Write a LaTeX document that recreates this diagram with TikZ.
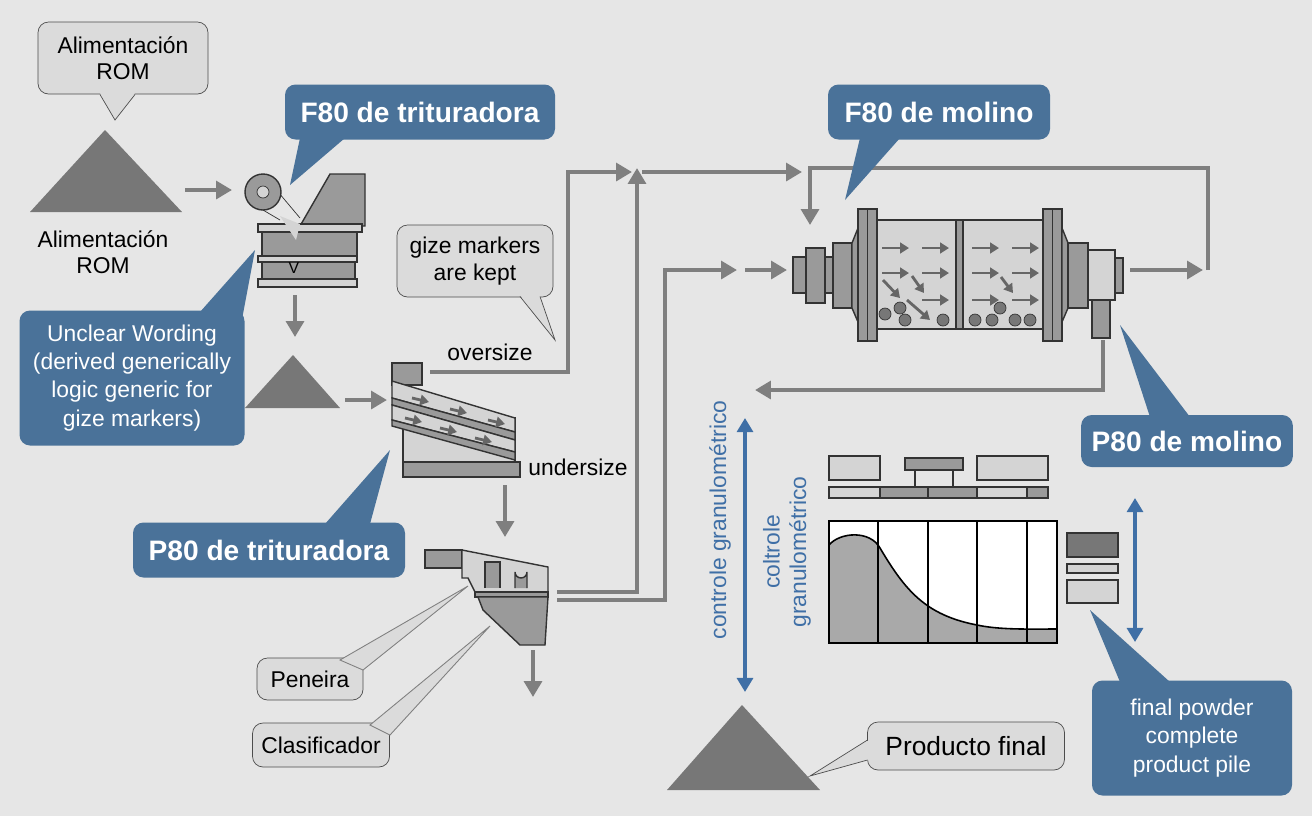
\documentclass[tikz,border=0pt]{standalone}
\usepackage{fontspec}
\setmainfont{Liberation Sans}
\usetikzlibrary{positioning,arrows.meta}
\definecolor{bg}{HTML}{E6E6E6}
\definecolor{callblue}{HTML}{4A7299}
\definecolor{flow}{HTML}{7F7F7F}
\definecolor{part}{HTML}{9A9A9A}
\definecolor{partlt}{HTML}{D4D4D4}
\definecolor{partdk}{HTML}{777777}
\definecolor{txtblue}{HTML}{3F6FA6}

\tikzset{
  blue call/.style = {fill=callblue, text=white, rounded corners=6pt, font=\fontsize{16}{18}\selectfont\bfseries, inner sep=6pt, align=center},
  blue note/.style = {fill=callblue, text=white, rounded corners=6pt, font=\fontsize{13}{16}\selectfont, align=center},
  grey call/.style = {draw=black!70, fill=partlt!60!bg, rounded corners=6pt, font=\fontsize{13}{15}\selectfont, align=center},
  flow line/.style = {draw=flow, line width=2.4pt, -{Triangle[length=9pt,width=10pt]}},
  flow path/.style = {draw=flow, line width=2.4pt},
  machine/.style = {draw=black!80, line width=0.8pt, fill=part},
  machine lt/.style = {draw=black!80, line width=0.8pt, fill=partlt},
  machine dk/.style = {draw=black!80, line width=0.8pt, fill=partdk},
  pile/.style = {fill=partdk},
  small arrow/.style = {draw=flow!80!black, line width=1.6pt, -{Triangle[length=5pt,width=6pt]}},
  measure/.style = {draw=txtblue, line width=2pt, {Triangle[length=8pt,width=9pt]}-{Triangle[length=8pt,width=9pt]}}
}

\begin{document}
\begin{tikzpicture}[x=0.02cm, y=-0.02cm]
      \fill[bg] (0,0) rectangle (1312,816);
      \useasboundingbox (0,0) rectangle (1312,816);

      % ROM feed
      \node[grey call, minimum width=170*0.02cm, minimum height=72*0.02cm] (romcall) at (123,58) {Alimentación\\ROM};
      \fill[partlt!60!bg] (100,93) -- (115,120) -- (135,93) -- cycle;
      \draw[black!70] (100,94.5) -- (115,120) -- (135,94.5);
      \fill[pile] (30,212) -- (105,130) -- (182,212) -- cycle;
      \node[font=\fontsize{13}{15}\selectfont, align=center] (romlabel) at (103,252) {Alimentación\\ROM};
      \coordinate (rompile) at (185,190);
      \coordinate (crushin) at (232,190);
      \draw[flow line] (rompile) -- (crushin);

      % crusher
      \draw[machine] (300,226) -- (330,174) -- (365,174) -- (365,226) -- cycle;
      \draw[machine lt] (258,224) rectangle (362,232);
      \draw[machine] (262,232) rectangle (357,256);
      \draw[machine lt] (258,256) rectangle (357,262);
      \draw[machine] (262,262) rectangle (355,279);
      \draw[machine lt] (258,279) rectangle (357,287);
      \fill[partlt] (280,216) -- (300,224) -- (296,240) -- cycle;
      \draw[black!80] (263,174) -- (300,218) (263,210) -- (280,220);
      \draw[machine] (263,192) circle (18);
      \draw[black!80, fill=partlt] (263,192) circle (6);
      \node[font=\small] (vmark) at (294,268) {V};
      \node[blue call, minimum width=270*0.02cm, minimum height=55*0.02cm] (f80crush) at (420,112) {F80 de trituradora};
      \fill[callblue] (300,138) -- (290,185) -- (345,138) -- cycle;

      % crusher product
      \coordinate (crushout) at (295,295);
      \coordinate (pilein) at (295,337);
      \draw[flow line] (crushout) -- (pilein);
      \node[blue note, minimum width=225*0.02cm, minimum height=135*0.02cm] (unclear) at (132,378) {Unclear Wording\\(derived generically\\logic generic for\\gize markers)};
      \fill[callblue] (200,312) -- (255,250) -- (240,330) -- cycle;
      \fill[pile] (245,408) -- (293,355) -- (340,408) -- cycle;
      \coordinate (pileout) at (345,400);
      \coordinate (screenin) at (387,400);
      \draw[flow line] (pileout) -- (screenin);

      % screen
      \draw[machine] (392,363) rectangle (422,385);
      \draw[machine lt] (403,418) rectangle (515,462);
      \draw[machine] (403,462) rectangle (520,477);
      \draw[machine lt] (392,381) -- (515,418) -- (515,432) -- (392,398) -- cycle;
      \draw[machine] (392,398) -- (515,432) -- (515,440) -- (392,405) -- cycle;
      \draw[machine lt] (392,405) -- (515,440) -- (515,452) -- (392,420) -- cycle;
      \draw[machine] (392,420) -- (515,452) -- (515,460) -- (392,426) -- cycle;
      \foreach \x/\y in {412/398, 450/409, 488/420, 405/418, 440/428, 475/438}
        \draw[small arrow] (\x,\y) -- ++(17,4);
      \node[blue call, minimum width=272*0.02cm, minimum height=55*0.02cm] (p80crush) at (269,550) {P80 de trituradora};
      \fill[callblue] (325,524) -- (390,450) -- (370,524) -- cycle;

      % screen outputs
      \node[font=\fontsize{13}{15}\selectfont] (oversize) at (490,352) {oversize};
      \node[font=\fontsize{13}{15}\selectfont] (undersize) at (578,467) {undersize};
      \coordinate (overout) at (430,372);
      \coordinate (junction) at (632,172);
      \draw[flow line] (overout) -- (568,372) -- (568,172) -- (junction);
      \node[grey call, minimum width=156*0.02cm, minimum height=72*0.02cm] (gize) at (475,261) {gize markers\\are kept};
      \fill[partlt!60!bg] (520,295) -- (555,340) -- (540,295) -- cycle;
      \draw[black!70] (520,296.5) -- (555,340) -- (540,296.5);
      \coordinate (underout) at (505,485);
      \coordinate (classin) at (505,537);
      \draw[flow line] (underout) -- (classin);

      % classifier
      \draw[machine] (425,550) rectangle (462,568);
      \draw[machine lt] (462,550) -- (548,567) -- (548,592) -- (475,592) -- (468,578) -- (462,578) -- cycle;
      \draw[machine] (485,588) -- (485,562) -- (500,562) -- (500,588);
      \draw[machine] (515,588) -- (515,572) arc (180:0:6) -- (527,588);
      \draw[machine] (475,592) rectangle (548,597);
      \draw[machine] (478,597) -- (548,597) -- (545,645) -- (520,645) -- (483,610) -- cycle;
      \coordinate (classout) at (533,650);
      \coordinate (classbot) at (533,697);
      \draw[flow line] (classout) -- (classbot);
      \node[grey call, minimum width=106*0.02cm, minimum height=42*0.02cm] (peneira) at (310,679) {Peneira};
      \node[grey call, minimum width=137*0.02cm, minimum height=44*0.02cm] (clasif) at (321,745) {Clasificador};
      \fill[partlt!60!bg, draw=black!50, line width=0.5pt] (340,660) -- (468,586) -- (363,670) -- cycle;
      \fill[partlt!60!bg, draw=black!50, line width=0.5pt] (370,725) -- (490,626) -- (390,735) -- cycle;

      % classifier to mill
      \coordinate (fineout) at (557,592);
      \coordinate (coarseout) at (557,600);
      \coordinate (millfeed) at (737,270);
      \draw[flow line] (fineout) -- (637,592) -- (637,168);
      \draw[flow line] (coarseout) -- (665,600) -- (665,270) -- (millfeed);
      \coordinate (topfeed) at (802,172);
      \draw[flow line] (642,172) -- (topfeed);
      \draw[flow line] (745,270) -- (787,270);

      % mill
      \draw[machine] (793,257) rectangle (806,293);
      \draw[machine] (806,248) rectangle (825,303);
      \draw[machine] (825,257) rectangle (833,293);
      \draw[machine] (833,243) rectangle (852,308);
      \draw[machine] (852,243) -- (858,228) -- (858,322) -- (852,308) -- cycle;
      \draw[machine] (858,209) rectangle (877,341);
      \draw[black!80] (867,209) -- (867,341);
      \draw[machine lt] (877,220) rectangle (1043,329);
      \draw[machine] (956,220) rectangle (963,329);
      \draw[machine] (1043,209) rectangle (1062,341);
      \draw[black!80] (1052,209) -- (1052,341);
      \draw[machine] (1062,228) -- (1068,243) -- (1068,308) -- (1062,322) -- cycle;
      \draw[machine] (1068,243) rectangle (1088,308);
      \draw[machine lt] (1088,250) rectangle (1115,300);
      \draw[machine] (1115,258) rectangle (1123,293);
      \draw[machine] (1092,300) rectangle (1110,338);
      \foreach \x in {882, 922, 972, 1012}
        \foreach \y in {248, 273}
          \draw[small arrow] (\x,\y) -- ++(27,0);
      \foreach \x in {922, 972, 1012}
        \draw[small arrow] (\x,300) -- (\x+27,300);
      \draw[small arrow] (883,280) -- (900,298);
      \draw[small arrow] (912,276) -- (924,293);
      \draw[small arrow] (1001,277) -- (1013,293);
      \draw[small arrow] (907,300) -- (930,320);
      \foreach \x/\y in {885/314, 900/308, 905/320, 943/320, 975/320, 992/320, 1000/308, 1015/320, 1030/320}
        \draw[black!80, fill=partdk] (\x,\y) circle (6);
      \coordinate (millout) at (1130,270);
      \coordinate (loopturn) at (1203,270);
      \draw[flow line] (millout) -- (loopturn);
      \coordinate (loopin) at (810,225);
      \draw[flow line] (1208,270) -- (1208,168) -- (810,168) -- (loopin);
      \coordinate (returnin) at (755,390);
      \draw[flow line] (1103,340) -- (1103,390) -- (returnin);
      \node[blue call, minimum width=222*0.02cm, minimum height=55*0.02cm] (f80mill) at (939,112) {F80 de molino};
      \fill[callblue] (860,138) -- (845,200) -- (900,138) -- cycle;
      \node[blue call, minimum width=210*0.02cm, minimum height=52*0.02cm] (p80mill) at (1187,441) {P80 de molino};
      \fill[callblue] (1150,417) -- (1120,325) -- (1190,417) -- cycle;

      % size control
      \node[rotate=90, text=txtblue, font=\fontsize{13}{15}\selectfont] (ctrlone) at (720,520) {controle granulométrico};
      \node[rotate=90, text=txtblue, font=\fontsize{13}{15}\selectfont, align=center] (ctrltwo) at (787,552) {coltrole\\granulométrico};
      \coordinate (ctrltop) at (745,418);
      \coordinate (ctrlbot) at (745,692);
      \draw[measure] (ctrltop) -- (ctrlbot);

      % chart
      \draw[machine lt] (829,456) rectangle (880,480);
      \draw[machine] (905,458) rectangle (963,470);
      \draw[black!80, line width=0.8pt] (915,470) -- (915,487) (953,470) -- (953,487);
      \draw[machine lt] (977,456) rectangle (1048,480);
      \draw[machine lt] (829,487) rectangle (880,498);
      \draw[machine] (880,487) rectangle (928,498);
      \draw[machine] (928,487) rectangle (977,498);
      \draw[machine lt] (977,487) rectangle (1027,498);
      \draw[machine] (1027,487) rectangle (1048,498);
      \fill[white] (829,521) rectangle (1057,643);
      \fill[part!85] (829,643) -- (829,545) .. controls (840,532) and (870,530) .. (880,548)
        .. controls (905,590) and (925,615) .. (977,625)
        .. controls (1000,630) and (1030,629) .. (1057,629) -- (1057,643) -- cycle;
      \draw[black, line width=0.9pt] (829,545) .. controls (840,532) and (870,530) .. (880,548)
        .. controls (905,590) and (925,615) .. (977,625)
        .. controls (1000,630) and (1030,629) .. (1057,629);
      \foreach \x in {878, 928, 977, 1027}
        \draw[black, line width=0.9pt] (\x,521) -- (\x,643);
      \draw[black, line width=1pt] (829,521) rectangle (1057,643);
      \draw[machine dk] (1067,533) rectangle (1118,557);
      \draw[machine lt] (1067,564) rectangle (1118,573);
      \draw[machine lt] (1067,580) rectangle (1118,603);
      \coordinate (chartup) at (1135,498);
      \coordinate (chartdown) at (1135,642);
      \draw[measure] (chartup) -- (chartdown);

      % final product
      \fill[pile] (667,790) -- (742,705) -- (820,790) -- cycle;
      \node[grey call, minimum width=197*0.02cm, minimum height=48*0.02cm, font=\fontsize{15}{17}\selectfont] (producto) at (966,746) {Producto final};
      \fill[partlt!60!bg] (869,740) -- (810,776) -- (869,760) -- cycle;
      \draw[black!70] (867.5,740) -- (810,776) -- (867.5,760);
      \node[blue note, minimum width=200*0.02cm, minimum height=115*0.02cm] (finalpile) at (1192,738) {final powder\\complete\\product pile};
      \fill[callblue] (1120,682) -- (1090,610) -- (1170,682) -- cycle;
\end{tikzpicture}
\end{document}
